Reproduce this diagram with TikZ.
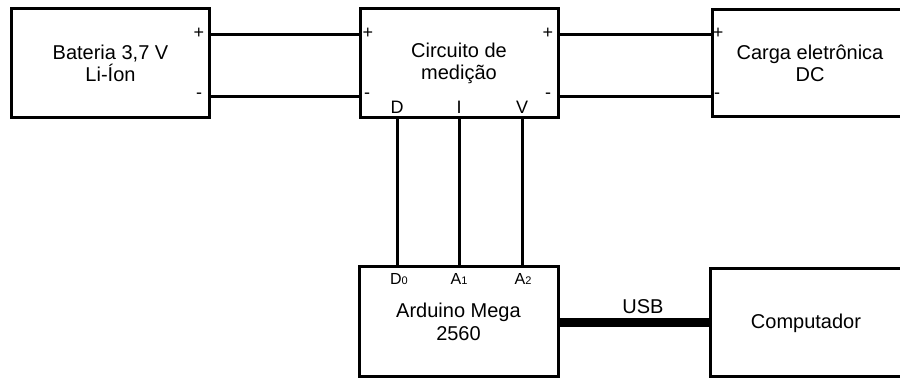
\documentclass[tikz,border=0pt]{standalone}
\usepackage{fontspec}
\setmainfont{Liberation Sans}
\begin{document}
\begin{tikzpicture}[x=1pt,y=-1pt,
  blk/.style={draw, line width=3pt, inner sep=0pt, align=center,
    font=\fontsize{20}{22.5}\selectfont},
  wire/.style={line width=3pt},
  usbw/.style={line width=9pt},
  pin/.style={inner sep=0pt, font=\fontsize{18}{18}\selectfont},
  sub/.style={inner sep=0pt, font=\fontsize{16}{16}\selectfont},
  lbl/.style={inner sep=0pt, font=\fontsize{20}{22.5}\selectfont, align=center}]
\useasboundingbox (0,0) rectangle (900,379);
% boxes
\node[blk, minimum width=198pt, minimum height=109pt] (bat) at (110.5,63.5) {Bateria 3,7 V\\Li-Íon};
\node[blk, minimum width=198pt, minimum height=109pt] (circ) at (459,63.5) {Circuito de\\medição};
\node[blk, minimum width=192pt, minimum height=107pt] (carga) at (808,63.5) {};
\node[lbl] (cargat) at (810,63.5) {Carga eletrônica\\DC};
\node[blk, minimum width=199pt, minimum height=110pt] (ard) at (458.5,322) {Arduino Mega\\2560};
\node[blk, minimum width=192pt, minimum height=108pt] (comp) at (806,323) {Computador};
% power wires
\draw[wire] ([yshift=28.5pt]bat.east) -- ([yshift=28.5pt]circ.west);
\draw[wire] ([yshift=-33.5pt]bat.east) -- ([yshift=-33.5pt]circ.west);
\draw[wire] ([yshift=28.5pt]circ.east) -- ([yshift=28.5pt]carga.west);
\draw[wire] ([yshift=-33.5pt]circ.east) -- ([yshift=-33.5pt]carga.west);
% signal wires
\draw[wire] ([xshift=-62pt]circ.south) -- ([xshift=-61.5pt]ard.north);
\draw[wire] (circ.south) -- ([xshift=0.5pt]ard.north);
\draw[wire] ([xshift=63pt]circ.south) -- ([xshift=63.5pt]ard.north);
% USB
\draw[usbw] (ard.east |- comp.center) -- (comp.west);
\node[lbl] (usb) at (643,307) {USB};
% pin labels
\node[pin] (bp) at (199,33) {+};
\node[pin] (bm) at (199,96) {-};
\node[pin] (cp1) at (368,33) {+};
\node[pin] (cm1) at (367,96) {-};
\node[pin] (cp2) at (548,33) {+};
\node[pin] (cm2) at (548,96) {-};
\node[pin] (gp) at (718,33) {+};
\node[pin] (gm) at (717,96) {-};
\node[pin] (pd) at (397,107) {D};
\node[pin] (pi) at (459,107) {I};
\node[pin] (pv) at (522,107) {V};
\node[sub] (d0) at (399,279) {D{\fontsize{11}{11}\selectfont 0}};
\node[sub] (a1) at (459,279) {A{\fontsize{11}{11}\selectfont 1}};
\node[sub] (a2) at (523,279) {A{\fontsize{11}{11}\selectfont 2}};
\end{tikzpicture}
\end{document}
